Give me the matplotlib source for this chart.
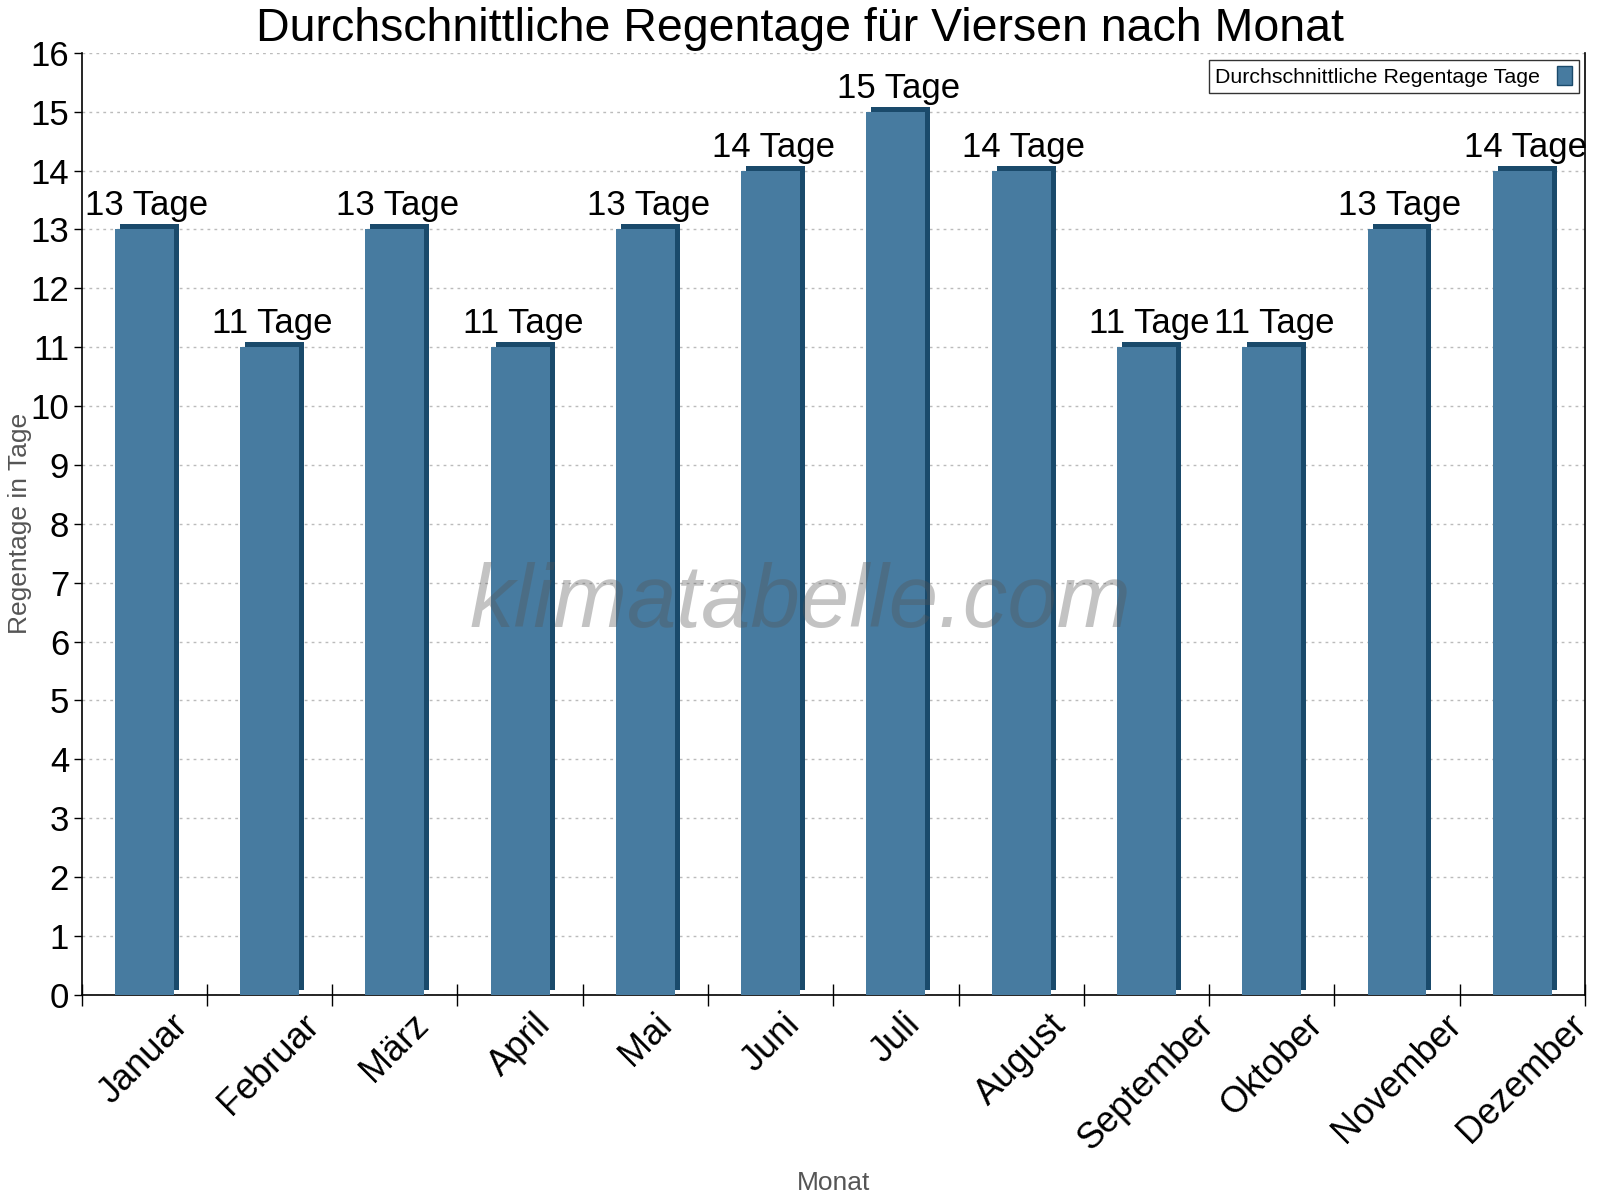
import matplotlib
matplotlib.use("Agg")
import matplotlib.pyplot as plt
import matplotlib.transforms as mtransforms
import numpy as np

# Daten
monate = ["Januar", "Februar", "März", "April", "Mai", "Juni", "Juli",
          "August", "September", "Oktober", "November", "Dezember"]
regentage = [13, 11, 13, 11, 13, 14, 15, 14, 11, 11, 13, 14]
einheit = "Tage"

plt.rcParams['font.family'] = ['Liberation Sans', 'DejaVu Sans']

fig = plt.figure(figsize=(16, 12), dpi=100)
ax = fig.add_axes([0.051, 0.171, 0.9396, 0.785])

x = np.arange(len(monate))
breite = 0.47
front = '#477ba0'
seite = '#1a4a6b'

# 3D-Effekt: dunkle Kopie leicht nach rechts oben verschoben
versatz = mtransforms.ScaledTranslation(5 / 100, 5 / 100, fig.dpi_scale_trans)
ax.bar(x, regentage, breite, color=seite, transform=ax.transData + versatz, zorder=2)
ax.bar(x, regentage, breite, color=front, zorder=3,
       label="Durchschnittliche Regentage Tage")

for xi, v in zip(x, regentage):
    ax.annotate(f"{v} {einheit}", (xi, v), xytext=(2, 5), textcoords='offset points',
                ha='center', va='bottom', fontsize=25, zorder=5)

ax.set_xlim(-0.5, len(monate) - 0.5)
ax.set_ylim(0, 16)
ax.set_yticks(range(0, 17))
ax.tick_params(axis='y', labelsize=25, length=6, width=1, pad=3)
ax.yaxis.grid(True, linestyle=(0, (2, 3)), color='#bbbbbb', linewidth=1)
ax.set_axisbelow(True)

# Hauptticks an den Kategoriegrenzen, Beschriftung in der Mitte
ax.set_xticks(np.arange(-0.5, len(monate)), labels=[])
ax.set_xticks(x, labels=monate, minor=True)
ax.tick_params(axis='x', which='major', direction='inout', length=16, width=1)
ax.tick_params(axis='x', which='minor', length=0, labelsize=26, pad=9)
for lab in ax.get_xticklabels(minor=True):
    lab.set_rotation(45)
    lab.set_ha('center')
    lab.set_va('top')

ax.spines['top'].set_visible(False)
for s in ['left', 'bottom', 'right']:
    ax.spines[s].set_linewidth(1.2)

fig.text(0.5, 0.966, "Durchschnittliche Regentage für Viersen nach Monat",
         fontsize=33.5, ha='center', va='baseline')
ax.set_ylabel("Regentage in Tage", fontsize=19, color='#555555', va='center')
ax.yaxis.set_label_coords(-0.041, 0.5)
ax.set_xlabel("Monat", fontsize=19, color='#555555', va='center')
ax.xaxis.set_label_coords(0.5, -0.2)

leg = ax.legend(loc='upper right', bbox_to_anchor=(1.003, 1.004), fontsize=15.4,
                markerfirst=False, fancybox=False, edgecolor='black',
                handlelength=0.7, handleheight=1.0, borderpad=0.3)
leg.get_frame().set_linewidth(1)
for h in leg.legend_handles:
    h.set_edgecolor(seite)
    h.set_linewidth(1)

fig.text(0.5, 0.497, "klimatabelle.com", fontsize=64, style='italic',
         color='#555555', alpha=0.35, ha='center', va='center', zorder=10)

plt.savefig('out.png', dpi=100)
